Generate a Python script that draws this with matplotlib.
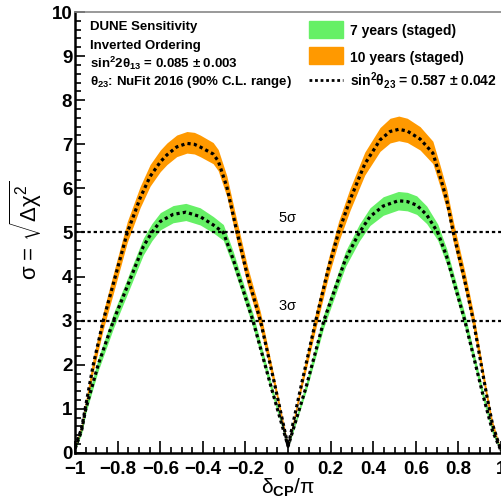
import matplotlib.pyplot as plt
from matplotlib.patches import Rectangle
from matplotlib.lines import Line2D
from matplotlib.ticker import MultipleLocator
import numpy as np

plt.rcParams['font.family'] = ['Liberation Sans', 'DejaVu Sans']
plt.rcParams['mathtext.fontset'] = 'custom'
plt.rcParams['mathtext.rm'] = 'Liberation Sans'
plt.rcParams['mathtext.it'] = 'Liberation Sans:italic'
plt.rcParams['mathtext.bf'] = 'Liberation Sans:bold'
plt.rcParams['mathtext.default'] = 'regular'

# 10 years (staged): delta_CP/pi, central sigma, band offsets
d10 = [-1.0, -0.97, -0.953, -0.915, -0.868, -0.82, -0.755, -0.72, -0.695, -0.648,
       -0.6, -0.569, -0.523, -0.475, -0.44, -0.413, -0.352, -0.328, -0.288, -0.241,
       -0.19, -0.13, -0.065, 0.0, 0.065, 0.13, 0.19, 0.237, 0.291, 0.36, 0.432,
       0.479, 0.52, 0.56, 0.62, 0.68, 0.714, 0.745, 0.776, 0.83, 0.87, 0.933,
       0.96, 1.0]
s10 = [0.15, 0.55, 1.0, 2.0, 3.0, 3.85, 5.0, 5.45, 5.78, 6.27,
       6.6, 6.76, 6.94, 7.02, 7.0, 6.94, 6.78, 6.62, 6.04, 5.03,
       4.0, 3.0, 1.6, 0.15, 1.6, 3.0, 4.2, 5.0, 5.74, 6.55, 7.1,
       7.29, 7.34, 7.3, 7.12, 6.8, 6.27, 5.74, 5.0, 3.9, 3.0, 1.3,
       0.65, 0.05]
up10 = [0.03, 0.08, 0.12, 0.16, 0.2, 0.23, 0.25, 0.26, 0.26, 0.27,
        0.27, 0.27, 0.27, 0.27, 0.27, 0.27, 0.26, 0.26, 0.25, 0.25,
        0.22, 0.2, 0.12, 0.03, 0.12, 0.2, 0.22, 0.25, 0.26, 0.27, 0.28,
        0.3, 0.3, 0.29, 0.28, 0.27, 0.25, 0.25, 0.25, 0.22, 0.2, 0.12,
        0.08, 0.03]
dn10 = [0.03, 0.08, 0.12, 0.16, 0.2, 0.22, 0.22, 0.22, 0.22, 0.22,
        0.22, 0.22, 0.22, 0.22, 0.22, 0.22, 0.22, 0.22, 0.22, 0.22,
        0.2, 0.18, 0.12, 0.03, 0.12, 0.18, 0.2, 0.22, 0.24, 0.25, 0.26,
        0.26, 0.26, 0.26, 0.25, 0.24, 0.23, 0.22, 0.22, 0.2, 0.18, 0.12,
        0.08, 0.03]

# 7 years (staged)
d7 = [-1.0, -0.97, -0.95, -0.892, -0.82, -0.75, -0.68, -0.64, -0.6, -0.54,
      -0.48, -0.413, -0.351, -0.304, -0.257, -0.165, -0.08, 0.0, 0.085, 0.168,
      0.27, 0.335, 0.385, 0.447, 0.518, 0.56, 0.604, 0.651, 0.703, 0.745,
      0.83, 0.916, 0.96, 1.0]
s7 = [0.1, 0.5, 1.0, 2.0, 3.0, 3.84, 4.68, 5.0, 5.25, 5.41,
      5.46, 5.36, 5.17, 5.0, 4.38, 3.0, 1.5, 0.15, 1.5, 3.0,
      4.4, 5.0, 5.36, 5.6, 5.72, 5.7, 5.62, 5.4, 5.0, 4.45,
      3.0, 1.3, 0.5, 0.05]
up7 = [0.03, 0.07, 0.1, 0.14, 0.17, 0.18, 0.19, 0.2, 0.2, 0.2,
       0.2, 0.2, 0.19, 0.18, 0.18, 0.16, 0.1, 0.03, 0.1, 0.16,
       0.18, 0.19, 0.2, 0.21, 0.21, 0.21, 0.21, 0.2, 0.19, 0.18,
       0.16, 0.1, 0.07, 0.03]
dn7 = [0.03, 0.07, 0.1, 0.14, 0.17, 0.18, 0.19, 0.19, 0.19, 0.19,
       0.19, 0.19, 0.18, 0.18, 0.17, 0.15, 0.1, 0.03, 0.1, 0.15,
       0.17, 0.19, 0.2, 0.21, 0.21, 0.21, 0.21, 0.2, 0.18, 0.17,
       0.15, 0.1, 0.07, 0.03]

sigma_lines = [3, 5]
sigma_labels = ['3$\\sigma$', '5$\\sigma$']

orange = '#ff9900'
green = '#66f066'

fig = plt.figure(figsize=(5.01, 5.01), dpi=100)
ax = fig.add_axes([0.150, 0.096, 0.850, 0.880])

d10 = np.array(d10); s10 = np.array(s10)
d7 = np.array(d7); s7 = np.array(s7)

ax.fill_between(d10, s10 - np.array(dn10), s10 + np.array(up10), color=orange, lw=0)
ax.fill_between(d7, s7 - np.array(dn7), s7 + np.array(up7), color=green, lw=0)
ax.plot(d10, s10, color='k', lw=2.3, ls=(0, (1, 1)))
ax.plot(d7, s7, color='k', lw=2.3, ls=(0, (1, 1)))

for y, lab in zip(sigma_lines, sigma_labels):
    ax.axhline(y, color='k', lw=1.6, ls=(0, (1.5, 1.3)))
    ax.text(-0.005, y + 0.17, lab, ha='center', va='bottom', fontsize=10.5)

ax.set_xlim(-1, 1)
ax.set_ylim(0, 10)
ax.xaxis.set_major_locator(MultipleLocator(0.2))
ax.xaxis.set_minor_locator(MultipleLocator(0.05))
ax.yaxis.set_major_locator(MultipleLocator(1))
ax.yaxis.set_minor_locator(MultipleLocator(0.2))
ax.xaxis.set_major_formatter(lambda v, p: ('%g' % round(v, 1)).replace('-', '\u2212'))

ax.tick_params(which='both', direction='in', width=1.2, labelsize=13.5)
ax.tick_params(axis='x', which='major', length=8.5, pad=6)
ax.tick_params(axis='x', which='minor', length=4.5)
ax.tick_params(axis='y', which='major', length=7.5, pad=2)
ax.tick_params(axis='y', which='minor', length=4)
for lab in ax.get_xticklabels() + ax.get_yticklabels():
    lab.set_fontweight('bold')

ax.spines['left'].set_linewidth(1.8)
ax.spines['bottom'].set_linewidth(1.8)
ax.spines['top'].set_color('#888888')
ax.spines['top'].set_linewidth(1.2)
ax.spines['right'].set_visible(False)

ax.set_xlabel('$\\delta_{\\mathbf{CP}}/\\pi$', fontsize=15, labelpad=-1)
ax.set_ylabel('$\\sigma$ = $\\sqrt{\\Delta\\chi^{2}}$', fontsize=16, labelpad=4)
ax.yaxis.set_label_coords(-0.072, 0.505)

# text block, top left
W = H = 501.0
info = ['DUNE Sensitivity', 'Inverted Ordering',
        'sin$^{2}$2$\\theta_{13}$ = 0.085 $\\pm$ 0.003',
        '$\\theta_{23}$: NuFit 2016 (90% C.L. range)']
for txt, yb in zip(info, [30, 49, 68, 85]):
    fig.text(90 / W, 1 - yb / H, txt, fontsize=9.5, fontweight='bold', va='baseline')

# legend
fig.add_artist(Rectangle((309 / W, 1 - 38 / H), 34 / W, 17 / H, color=green,
                         transform=fig.transFigure))
fig.add_artist(Rectangle((309 / W, 1 - 64 / H), 34 / W, 17 / H, color=orange,
                         transform=fig.transFigure))
fig.add_artist(Line2D([309 / W, 343 / W], [1 - 80 / H, 1 - 80 / H], color='k',
                      lw=2.0, ls=(0, (1, 1)), transform=fig.transFigure))
leg = ['7 years (staged)', '10 years (staged)',
       'sin$^{2}$$\\theta_{23}$ = 0.587 $\\pm$ 0.042']
for txt, yb in zip(leg, [35, 62, 86]):
    fig.text(350 / W, 1 - yb / H, txt, fontsize=10, fontweight='bold', va='baseline')

fig.savefig('out.png', dpi=100)
